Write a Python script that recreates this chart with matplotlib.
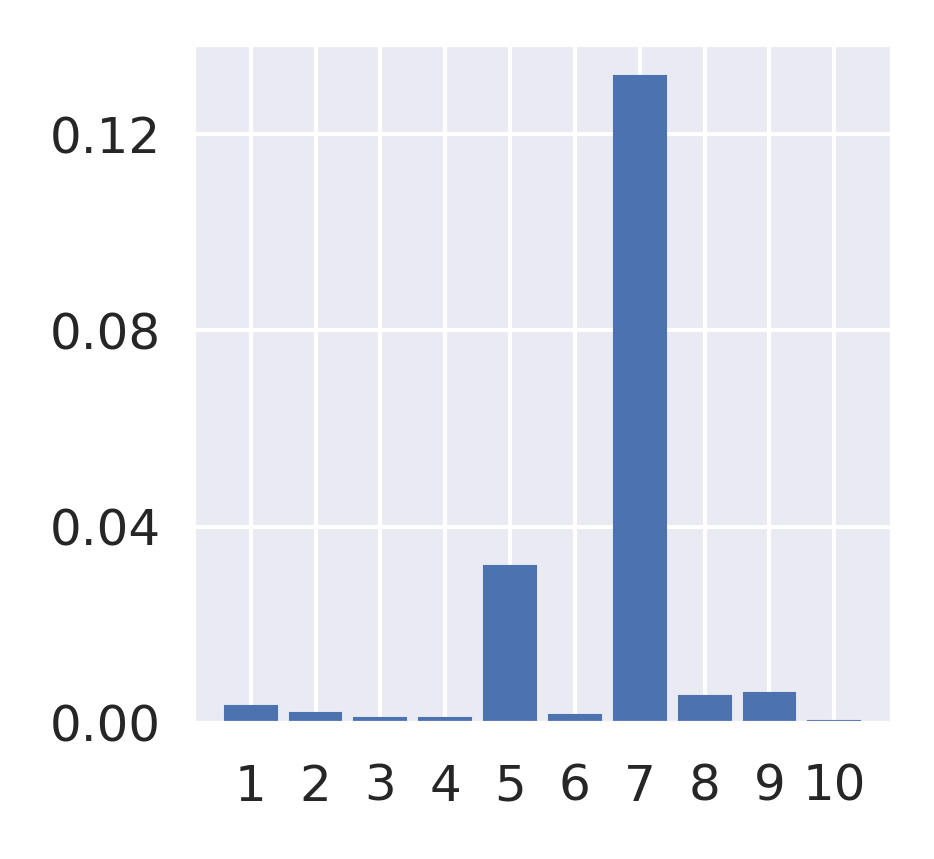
import matplotlib
matplotlib.use("Agg")
import matplotlib.pyplot as plt
import seaborn as sns
import numpy as np

categories = [1, 2, 3, 4, 5, 6, 7, 8, 9, 10]
values = [0.0035, 0.0021, 0.0011, 0.00105, 0.0319, 0.0017, 0.1318, 0.0056, 0.0061, 0.0005]
yticks = [0.00, 0.04, 0.08, 0.12]

sns.set_theme(style="darkgrid", context="notebook")
plt.rcParams['font.family'] = ['DejaVu Sans']

fig = plt.figure(figsize=(934/300, 859/300), dpi=300)
ax = fig.add_axes([193/934, 1-723/859, (892-193)/934, (723-44)/859])
ax.bar(categories, values, color="#4C72B0", edgecolor="#4C72B0", linewidth=0.5, clip_on=False)
ax.set_xticks(categories)
ax.set_xticklabels([str(c) for c in categories])
ax.set_yticks(yticks)
ax.set_yticklabels([f"{v:.2f}" for v in yticks])
ax.tick_params(axis='both', labelsize=12)
ax.tick_params(axis='y', length=0, pad=7.8)
fig.savefig("out.png", dpi=300)
